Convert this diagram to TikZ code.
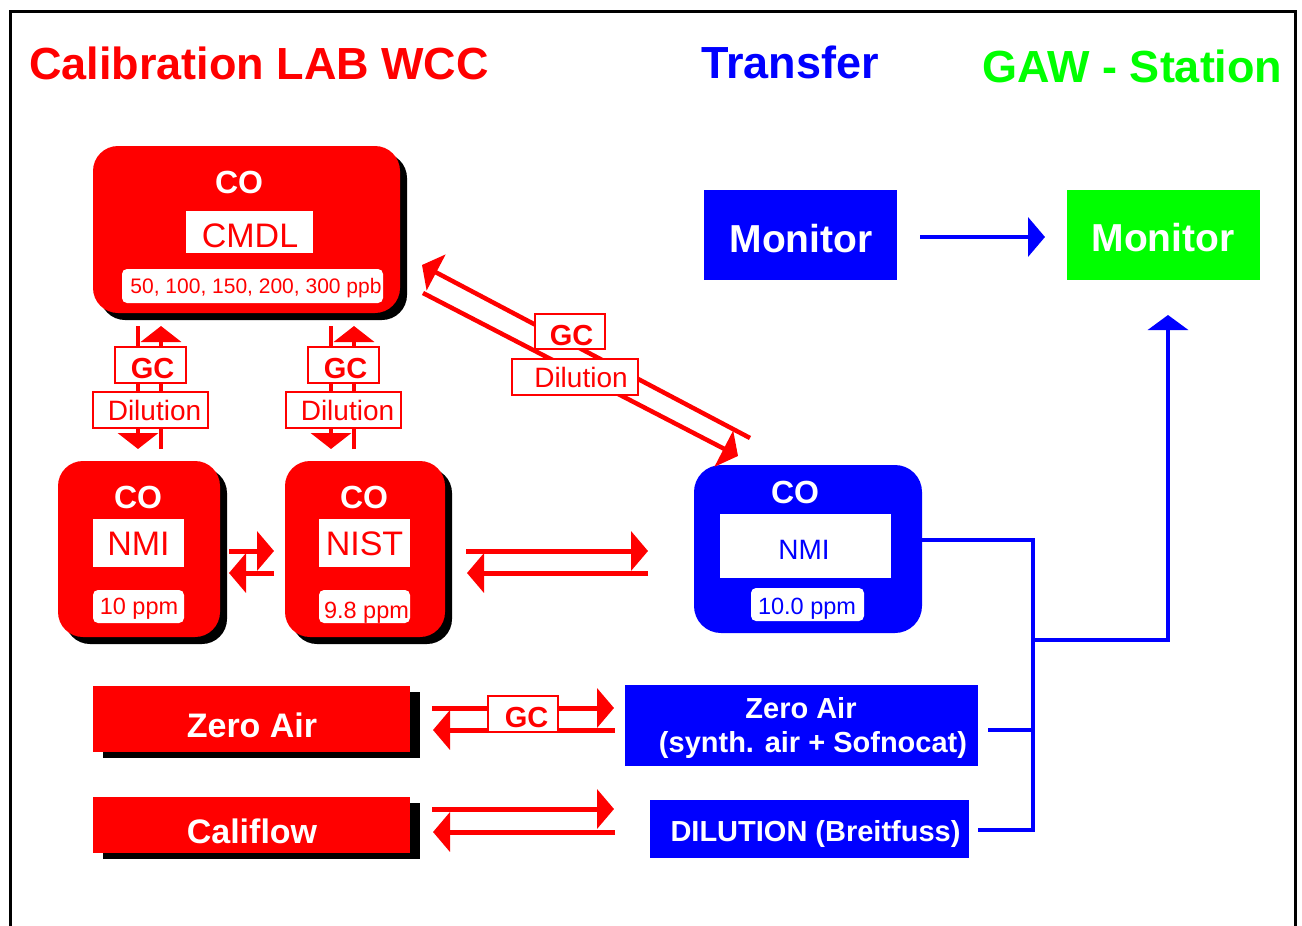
\documentclass[tikz,border=0pt]{standalone}
\usepackage{fontspec}
\setmainfont{Liberation Sans}
\usetikzlibrary{arrows.meta,shadows}
\definecolor{pred}{RGB}{255,0,0}
\definecolor{pblue}{RGB}{0,0,255}
\definecolor{pgreen}{RGB}{0,255,0}
\newcommand{\myfs}[1]{\fontsize{#1}{#1}\selectfont}
\begin{document}
\begin{tikzpicture}[x=1pt,y=-1pt,
  redround/.style={fill=pred, rounded corners=25pt, inner sep=0pt,
    drop shadow={fill=black,opacity=1,shadow xshift=7pt,shadow yshift=-7pt}},
  redflat/.style={fill=pred, inner sep=0pt,
    drop shadow={fill=black,opacity=1,shadow xshift=10pt,shadow yshift=-6pt}},
  blueround/.style={fill=pblue, rounded corners=27pt, inner sep=0pt},
  bluebox/.style={fill=pblue, inner sep=0pt},
  txt/.style={inner sep=0pt, anchor=base},
  cotxt/.style={txt, text=white, font=\bfseries\myfs{32}},
  wbold/.style={txt, text=white, font=\bfseries\myfs{#1}},
  lblbox/.style={fill=white, inner sep=0pt},
  valbox/.style={fill=white, inner sep=0pt, rounded corners=5pt},
  tagbox/.style={draw=pred, line width=2pt, fill=white, inner sep=0pt, minimum height=36pt},
  gctxt/.style={txt, text=pred, font=\bfseries\myfs{29}},
  diltxt/.style={txt, text=pred, font=\myfs{28}},
  rarrA/.style={draw=pred, line width=4.5pt, -{Triangle[length=16pt,width=40pt]}},
  rarrB/.style={draw=pred, line width=5pt, -{Triangle[length=17pt,width=39pt]}},
  bline/.style={draw=pblue, line width=4.5pt},
  barr/.style={draw=pblue, line width=4.5pt, -{Triangle[length=17pt,width=39pt]}},
  title/.style={inner sep=0pt, font=\bfseries\myfs{45}}
]
\useasboundingbox (0,0) rectangle (1302,926);
\clip (0,0) rectangle (1302,926);
\fill[white] (0,0) rectangle (1302,926);
\draw[line width=3pt] (10,11) rectangle (1295,960);

% titles
\node[title, text=pred] (t1) at (259,63.5) {Calibration LAB WCC};
\node[title, text=pblue] (t2) at (790,62.5) {Transfer};
\node[title, text=pgreen] (t3) at (1132.5,66) {GAW - Station};

% CMDL
\node[redround, minimum width=307pt, minimum height=167pt] (cmdl) at (246.5,229.5) {};
\node[cotxt] (cmdlco) at (239,193) {CO};
\node[lblbox, minimum width=127pt, minimum height=42pt] (cmdllbl) at (249.5,232) {};
\node[txt, text=pred, font=\myfs{34}] (cmdlt) at (250,247) {CMDL};
\node[valbox, minimum width=261pt, minimum height=34pt] (cmdlval) at (252.5,286) {};
\node[txt, text=pred, font=\myfs{21}] (cmdlv) at (256,293) {50, 100, 150, 200, 300 ppb};

% NMI red
\node[redround, minimum width=162pt, minimum height=176pt] (nmi) at (139,549) {};
\node[cotxt] (nmico) at (138,508) {CO};
\node[lblbox, minimum width=91pt, minimum height=48pt] (nmilbl) at (138.5,543) {};
\node[txt, text=pred, font=\myfs{34}] (nmit) at (138.5,555) {NMI};
\node[valbox, minimum width=91pt, minimum height=33pt] (nmival) at (138.5,606.5) {};
\node[txt, text=pred, font=\myfs{23.5}] (nmiv) at (139,614) {10 ppm};

% NIST
\node[redround, minimum width=160pt, minimum height=176pt] (nist) at (365,549) {};
\node[cotxt] (nistco) at (364,508) {CO};
\node[lblbox, minimum width=91pt, minimum height=48pt] (nistlbl) at (364.5,543) {};
\node[txt, text=pred, font=\myfs{34}] (nistt) at (364.5,555) {NIST};
\node[valbox, minimum width=91pt, minimum height=33pt] (nistval) at (364.5,606.5) {};
\node[txt, text=pred, font=\myfs{23.5}] (nistv) at (366.5,618) {9.8 ppm};

% blue NMI
\node[blueround, minimum width=228pt, minimum height=168pt] (bnmi) at (808,549) {};
\node[cotxt] (bnmico) at (795,503) {CO};
\node[lblbox, minimum width=171pt, minimum height=64pt] (bnmilbl) at (805.5,546) {};
\node[txt, text=pblue, font=\myfs{28}] (bnmit) at (804,559) {NMI};
\node[valbox, minimum width=113pt, minimum height=33pt] (bnmival) at (807.5,604.5) {};
\node[txt, text=pblue, font=\myfs{23.5}] (bnmiv) at (807,614) {10.0 ppm};

% Monitors
\node[fill=pblue, inner sep=0pt, minimum width=193pt, minimum height=90pt] (mon1) at (800.5,235) {};
\node[wbold=39] (mon1t) at (801,252) {Monitor};
\node[fill=pgreen, inner sep=0pt, minimum width=193pt, minimum height=90pt] (mon2) at (1163.5,235) {};
\node[wbold=39] (mon2t) at (1163,251) {Monitor};
\draw[barr] (920,237) -- (1045,237);

% zero air / califlow red
\node[redflat, minimum width=317pt, minimum height=66pt] (zar) at (251.5,719) {};
\node[wbold=34] (zart) at (252,737) {Zero Air};
\node[redflat, minimum width=317pt, minimum height=56pt] (cal) at (251.5,825) {};
\node[wbold=34] (calt) at (252,843) {Califlow};

% blue boxes
\node[bluebox, minimum width=353pt, minimum height=81pt] (zab) at (801.5,725.5) {};
\node[wbold=29] (zabt1) at (801,718) {Zero Air};
\node[wbold=29] (zabt2) at (813,752) {(synth. air + Sofnocat)};
\node[bluebox, minimum width=319pt, minimum height=58pt] (dil) at (809.5,829) {};
\node[wbold=29] (dilt) at (815.5,841) {DILUTION (Breitfuss)};

% blue connectors
\draw[bline] (922,540) -- (1033,540) -- (1033,832);
\draw[bline] (988,730) -- (1033,730);
\draw[bline] (978,830) -- (1033,830);
\draw[barr, -{Triangle[length=15pt,width=40pt]}] (1033,640) -- (1168,640) -- (1168,315);

% vertical red pairs
\draw[rarrA] (138,326) -- (138,449);
\draw[rarrA] (161,449) -- (161,326);
\draw[rarrA] (331,326) -- (331,449);
\draw[rarrA] (354,449) -- (354,326);
\node[tagbox, minimum width=71pt] (gc1) at (150.5,365) {};
\node[gctxt] (gc1t) at (152.5,378) {GC};
\node[tagbox, minimum width=115pt] (dl1) at (150.5,410) {};
\node[diltxt] (dl1t) at (154.5,420.5) {Dilution};
\node[tagbox, minimum width=71pt] (gc2) at (343.5,365) {};
\node[gctxt] (gc2t) at (345.5,378) {GC};
\node[tagbox, minimum width=115pt] (dl2) at (343.5,410) {};
\node[diltxt] (dl2t) at (347.5,420.5) {Dilution};

% diagonal pair
\draw[rarrA] (750,438) -- (422,265);
\draw[rarrA] (423,293) -- (738,456);
\node[tagbox, minimum width=70pt, minimum height=35pt] (gc3) at (570,331.5) {};
\node[gctxt] (gc3t) at (571.5,345.5) {GC};
\node[tagbox, minimum width=126pt] (dl3) at (575,377) {};
\node[diltxt] (dl3t) at (581,387) {Dilution};

% horizontal pairs
\draw[rarrB] (466,551) -- (648,551);
\draw[rarrB] (648,573) -- (467,573);
\draw[rarrB] (229,551) -- (274,551);
\draw[rarrB] (274,573) -- (229,573);
\draw[rarrB] (432,708) -- (614,708);
\draw[rarrB] (615,730) -- (433,730);
\node[tagbox, minimum width=70pt] (gc4) at (523,714) {};
\node[gctxt] (gc4t) at (526.5,727.5) {GC};
\draw[rarrB] (432,809) -- (614,809);
\draw[rarrB] (615,832) -- (433,832);
\end{tikzpicture}
\end{document}
